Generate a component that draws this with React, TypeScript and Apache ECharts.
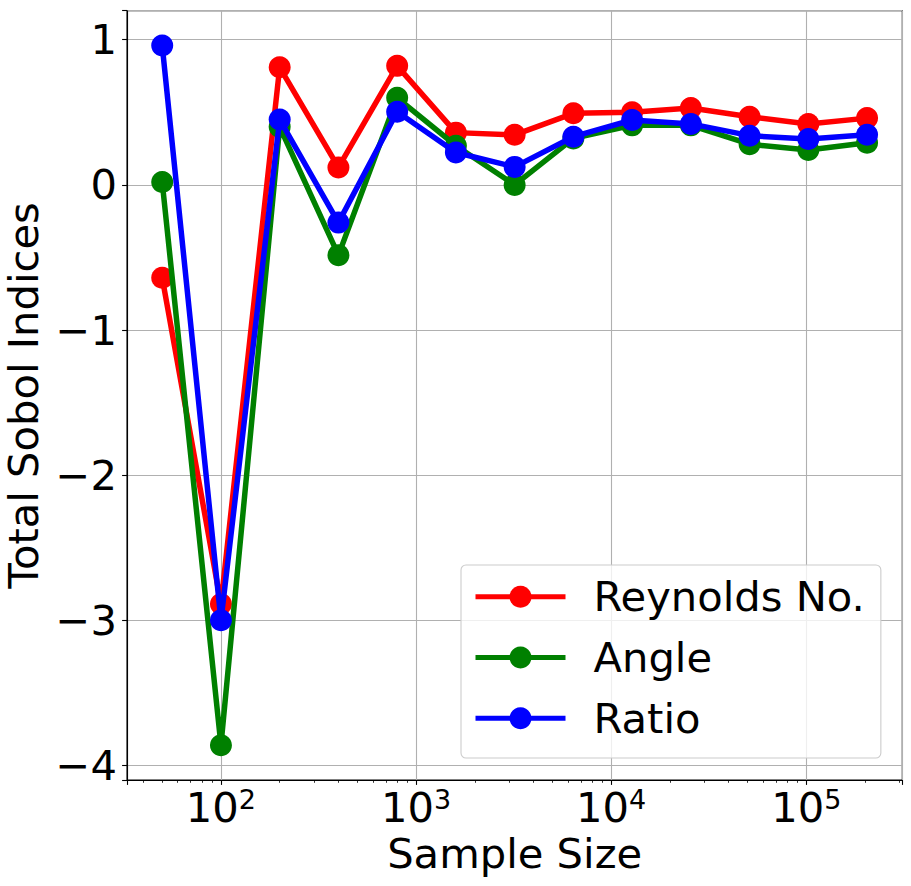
import React, { useEffect, useRef } from "react";
import * as echarts from "echarts";

const sampleSizes = [50, 100, 200, 400, 800, 1600, 3200, 6400, 12800, 25600, 51200, 102400, 204800];
const reynolds = [-0.64, -2.887, 0.81, 0.12, 0.82, 0.36, 0.345, 0.493, 0.5, 0.53, 0.47, 0.42, 0.46];
const angle = [0.02, -3.86, 0.4, -0.484, 0.6, 0.27, 0.0, 0.32, 0.41, 0.41, 0.28, 0.24, 0.29];
const ratio = [0.96, -3.0, 0.45, -0.26, 0.504, 0.223, 0.124, 0.332, 0.447, 0.42, 0.339, 0.316, 0.346];
const seriesNames = ["Reynolds No.", "Angle", "Ratio"];
const seriesColors = ["#ff0000", "#008000", "#0000ff"];
const minorTicks = [
  40, 50, 60, 70, 80, 90,
  200, 300, 400, 500, 600, 700, 800, 900,
  2000, 3000, 4000, 5000, 6000, 7000, 8000, 9000,
  20000, 30000, 40000, 50000, 60000, 70000, 80000, 90000,
  200000, 300000,
];

const FONT = "DejaVu Sans";
const FS = 41.67;

export default function App() {
  const ref = useRef<HTMLDivElement>(null);
  useEffect(() => {
    if (!ref.current) return;
    const chart = echarts.init(ref.current, null, { renderer: "svg" });
    const xMin = 33;
    const xMax = 310400;
    const seriesData = [reynolds, angle, ratio];
    chart.setOption({
      animation: false,
      backgroundColor: "#ffffff",
      grid: {
        left: 127,
        top: 10.7,
        right: 8.7,
        bottom: 106,
        show: true,
        borderColor: "#000000",
        borderWidth: 1.1,
        backgroundColor: "#ffffff",
        containLabel: false,
        outerBoundsMode: "none",
      },
      xAxis: [
        {
          type: "log",
          logBase: 10,
          min: xMin,
          max: xMax,
          name: "Sample Size",
          nameLocation: "middle",
          nameGap: 53,
          nameTextStyle: { fontFamily: FONT, fontSize: FS, color: "#000", lineHeight: FS },
          axisLine: { show: true, onZero: false, lineStyle: { color: "#000", width: 1.1 } },
          axisTick: { show: true, length: 4.9, lineStyle: { color: "#000", width: 1.1 } },
          splitLine: { show: true, lineStyle: { color: "#b0b0b0", width: 1.1 } },
          minorTick: { show: false },
          axisLabel: {
            margin: 6,
            formatter: (v: number) => {
              const l = Math.log10(v);
              const e = Math.round(l);
              if (Math.abs(l - e) > 0.01) return "";
              return `{b|10}{s|${e}}`;
            },
            rich: {
              b: { fontFamily: FONT, fontSize: FS, lineHeight: 42, color: "#000" },
              s: { fontFamily: FONT, fontSize: 27, lineHeight: 20, verticalAlign: "top", color: "#000" },
            },
          },
        },
        {
          type: "log",
          logBase: 10,
          min: xMin,
          max: xMax,
          position: "bottom",
          axisLine: { show: false, onZero: false },
          axisLabel: { show: false },
          splitLine: { show: false },
          axisTick: {
            show: true,
            length: 2.8,
            customValues: minorTicks,
            lineStyle: { color: "#000", width: 0.8 },
          },
        },
      ],
      yAxis: {
        type: "value",
        min: -4.1,
        max: 1.2,
        name: "Total Sobol Indices",
        nameLocation: "middle",
        nameGap: 79,
        nameTextStyle: { fontFamily: FONT, fontSize: FS, color: "#000", lineHeight: FS },
        axisLine: { show: true, onZero: false, lineStyle: { color: "#000", width: 1.1 } },
        axisTick: { show: true, length: 4.9, lineStyle: { color: "#000", width: 1.1 } },
        splitLine: { show: true, lineStyle: { color: "#b0b0b0", width: 1.1 } },
        axisLabel: {
          margin: 10,
          fontFamily: FONT,
          fontSize: FS,
          color: "#000",
          formatter: (v: number) => {
            if (Math.abs(v - Math.round(v)) > 1e-6) return "";
            return String(Math.round(v)).replace("-", "\u2212");
          },
        },
      },
      legend: {
        show: true,
        orient: "vertical",
        left: 461,
        top: 565,
        data: seriesNames,
        itemWidth: 90,
        itemHeight: 27.5,
        itemGap: 16.8,
        padding: [9.7, 16, 17.7, 12],
        backgroundColor: "rgba(255,255,255,0.8)",
        borderColor: "#cccccc",
        borderWidth: 1.1,
        borderRadius: 5,
        selectedMode: false,
        lineStyle: { width: 5 },
        textStyle: {
          fontFamily: FONT,
          fontSize: FS,
          color: "#000",
          lineHeight: 44,
          padding: [0, 0, 0, 23],
        },
      },
      series: seriesNames.map((name, i) => ({
        name,
        type: "line",
        xAxisIndex: 0,
        yAxisIndex: 0,
        data: sampleSizes.map((s, j) => [s, seriesData[i][j]]),
        symbol: "circle",
        symbolSize: 22,
        showSymbol: true,
        showAllSymbol: true,
        lineStyle: { color: seriesColors[i], width: 5.5 },
        itemStyle: { color: seriesColors[i], borderWidth: 0 },
        emphasis: { disabled: true },
        z: 2 + i,
      })),
    });
    return () => chart.dispose();
  }, []);
  return (
    <div
      ref={ref}
      style={{ position: "absolute", left: 0, top: 0, width: 911, height: 886 }}
    />
  );
}
